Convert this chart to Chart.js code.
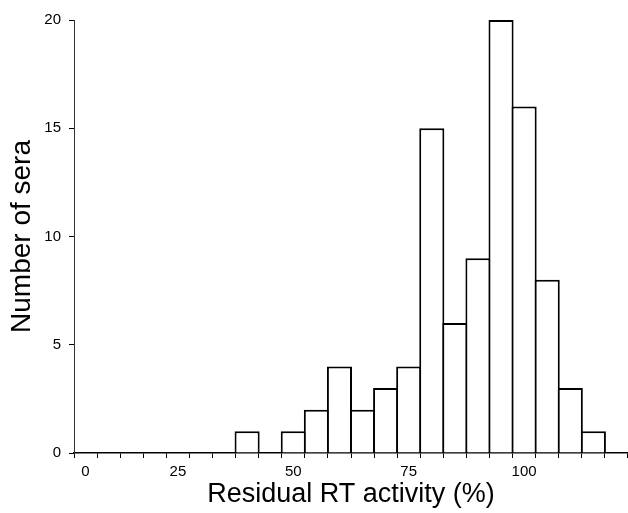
<!DOCTYPE html>
<html>
<head>
<meta charset="utf-8">
<script src="https://cdn.jsdelivr.net/npm/chart.js@4/dist/chart.umd.min.js"></script>
<style>
  html, body { margin: 0; padding: 0; background: #fff; }
  #c { display: block; }
</style>
</head>
<body>
<canvas id="c" width="628" height="513"></canvas>
<script>
// Histogram bins (one extra empty bin at the end to extend the axis line)
const binTickLabels = ['0','','','','25','','','','','50','','','','','75','','','','','100','','','',''];
const seraCounts    = [0,0,0,0,0,0,0,1,0,1,2,4,2,3,4,15,6,9,20,16,8,3,1,0];
const yTicks = [0, 5, 10, 15, 20];

const FONT = "'Liberation Sans', Arial, Helvetica, sans-serif";

new Chart(document.getElementById('c'), {
  type: 'bar',
  data: {
    labels: binTickLabels,
    datasets: [{
      data: seraCounts,
      backgroundColor: '#ffffff',
      borderColor: '#000000',
      borderWidth: 2,
      borderSkipped: 'bottom',
      barPercentage: 1.087,
      categoryPercentage: 1.0
    }]
  },
  options: {
    responsive: false,
    animation: false,
    devicePixelRatio: 1,
    layout: { padding: { top: 20, right: 0, left: 0, bottom: 0 } },
    plugins: { legend: { display: false }, tooltip: { enabled: false } },
    scales: {
      x: {
        type: 'category',
        offset: true,
        grid: {
          offset: true,
          drawOnChartArea: false,
          drawTicks: true,
          tickLength: 5,
          tickColor: (ctx) => (ctx.index === binTickLabels.length ? 'rgba(0,0,0,0)' : '#000'),
          tickWidth: 1
        },
        border: { display: true, color: '#000', width: 1.5 },
        ticks: {
          autoSkip: false,
          maxRotation: 0,
          minRotation: 0,
          padding: 5,
          color: '#000',
          font: { family: FONT, size: 15 }
        },
        title: {
          display: true,
          text: 'Residual RT activity (%)',
          color: '#000',
          font: { family: FONT, size: 27 },
          padding: { top: 2, bottom: 2 }
        },
        afterFit: (scale) => { scale.height = 60; }
      },
      y: {
        min: 0,
        max: 20,
        afterBuildTicks: (scale) => { scale.ticks = yTicks.map(v => ({ value: v })); },
        grid: {
          drawOnChartArea: false,
          drawTicks: true,
          tickLength: 5,
          tickColor: '#000'
        },
        border: { display: true, color: '#333', width: 1 },
        ticks: {
          padding: 8,
          color: '#000',
          font: { family: FONT, size: 15 }
        },
        title: {
          display: true,
          text: 'Number of sera',
          color: '#000',
          font: { family: FONT, size: 28 },
          padding: { top: 5, bottom: 5 }
        },
        afterFit: (scale) => { scale.width = 74; }
      }
    }
  }
});
</script>
</body>
</html>
